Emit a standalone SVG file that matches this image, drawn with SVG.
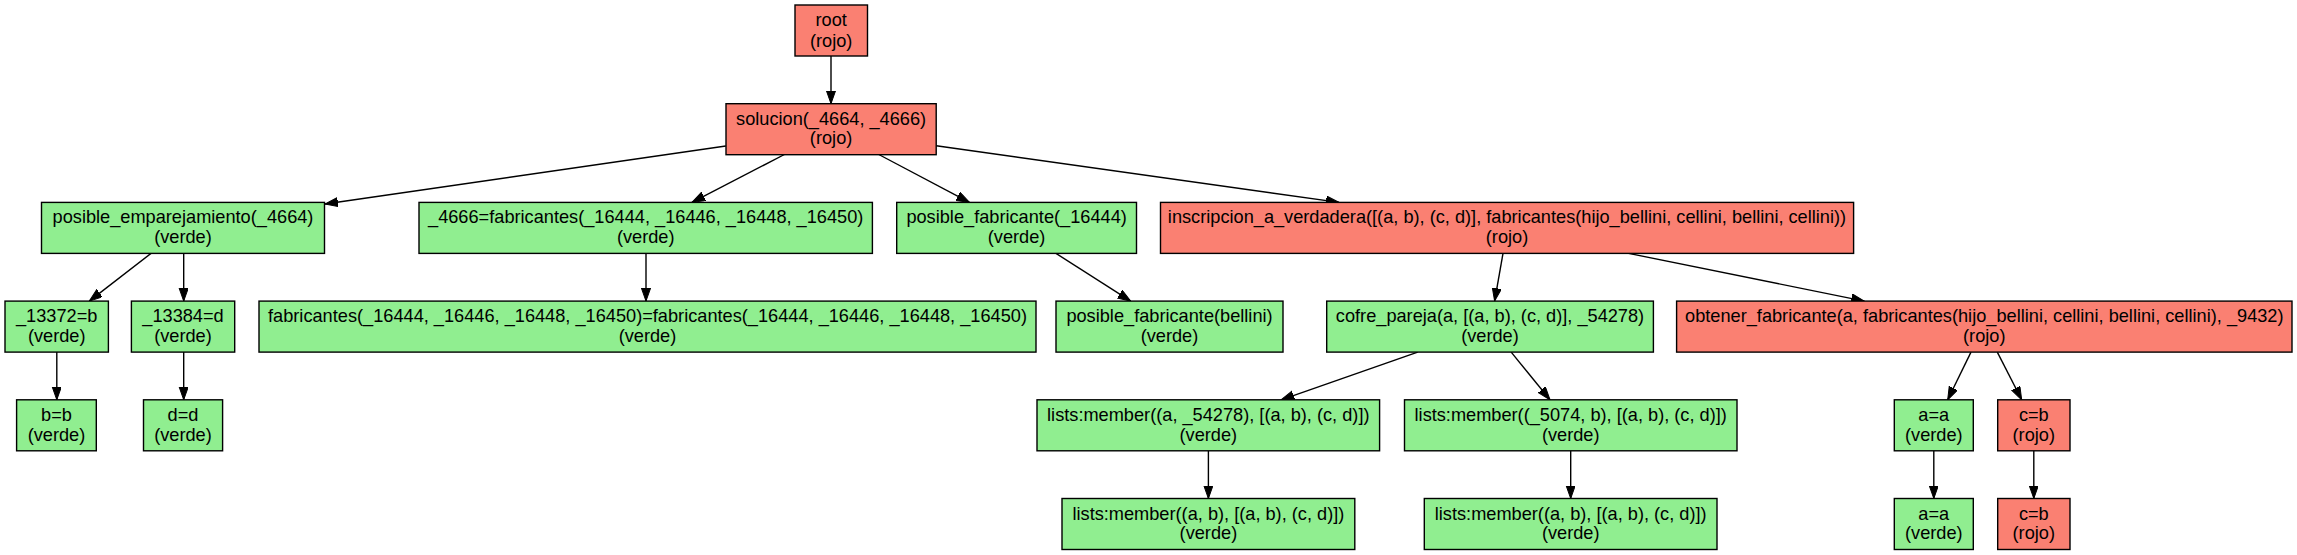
<svg xmlns="http://www.w3.org/2000/svg" width="2297" height="555" viewBox="0 0 2297 555">
<style>
.r{fill:#fa8072;stroke:#000;stroke-width:1.4}
.g{fill:#90ee90;stroke:#000;stroke-width:1.4}
text{font-family:"Liberation Sans",Arial,sans-serif;font-size:18.2px;text-anchor:middle;fill:#000}
.e path{fill:none;stroke:#000;stroke-width:1.4;marker-end:url(#arr)}
</style>
<defs>
<marker id="arr" markerUnits="userSpaceOnUse" markerWidth="14" markerHeight="10" refX="13" refY="4.6" orient="auto">
<path d="M0,0 L13,4.6 L0,9.2 z" fill="#000" stroke="#000" stroke-width="1"/>
</marker>
</defs>
<rect width="2297" height="555" fill="#fff"/>
<g class="e" id="connectors">
<path d="M831,56 L831,103.7"/>
<path d="M725.8,146 L325,204"/>
<path d="M784.4,154.5 L692,202.4"/>
<path d="M878.8,154.5 L969.4,202.4"/>
<path d="M936.2,145.7 L1339,202.4"/>
<path d="M151,253.4 L89.3,301.1"/>
<path d="M183.7,253.4 L183.7,301.1"/>
<path d="M646,253.4 L646,301.1"/>
<path d="M1056,253.4 L1130.7,301.1"/>
<path d="M1503,253.4 L1494.6,301.1"/>
<path d="M1628.6,253.4 L1864.3,301.1"/>
<path d="M56.8,352.1 L56.8,399.8"/>
<path d="M183.7,352.1 L183.7,399.8"/>
<path d="M1417.7,352.1 L1281.2,399.8"/>
<path d="M1511.2,352.1 L1550,399.8"/>
<path d="M1971,352.1 L1947.7,399.8"/>
<path d="M1997.3,352.1 L2021.7,399.8"/>
<path d="M1208.4,450.8 L1208.4,498.5"/>
<path d="M1570.7,450.8 L1570.7,498.5"/>
<path d="M1933.8,450.8 L1933.8,498.5"/>
<path d="M2033.8,450.8 L2033.8,498.5"/>
</g>
<g id="n_root"><rect class="r" x="795" y="5" width="72.5" height="51"/><text x="831.2" y="26">root</text><text x="831.2" y="46.7">(rojo)</text></g>
<g id="n_solucion"><rect class="r" x="726" y="103.7" width="210.2" height="51"/><text x="831.1" y="124.7">solucion(_4664, _4666)</text><text x="831.1" y="144.4">(rojo)</text></g>
<g id="n_pe"><rect class="g" x="41.5" y="202.4" width="283" height="51"/><text x="183" y="223.4">posible_emparejamiento(_4664)</text><text x="183" y="243.1">(verde)</text></g>
<g id="n_4666"><rect class="g" x="419" y="202.4" width="453.4" height="51"/><text x="645.7" y="223.4">_4666=fabricantes(_16444, _16446, _16448, _16450)</text><text x="645.7" y="243.1">(verde)</text></g>
<g id="n_pf"><rect class="g" x="896.7" y="202.4" width="239.8" height="51"/><text x="1016.6" y="223.4">posible_fabricante(_16444)</text><text x="1016.6" y="243.1">(verde)</text></g>
<g id="n_insc"><rect class="r" x="1160.5" y="202.4" width="693.1" height="51"/><text x="1507" y="223.4">inscripcion_a_verdadera([(a, b), (c, d)], fabricantes(hijo_bellini, cellini, bellini, cellini))</text><text x="1507" y="243.1">(rojo)</text></g>
<g id="n_13372"><rect class="g" x="5" y="301.1" width="103.4" height="51"/><text x="56.7" y="322.1">_13372=b</text><text x="56.7" y="341.8">(verde)</text></g>
<g id="n_13384"><rect class="g" x="131.4" y="301.1" width="103.3" height="51"/><text x="183" y="322.1">_13384=d</text><text x="183" y="341.8">(verde)</text></g>
<g id="n_fab"><rect class="g" x="259" y="301.1" width="777" height="51"/><text x="647.5" y="322.1">fabricantes(_16444, _16446, _16448, _16450)=fabricantes(_16444, _16446, _16448, _16450)</text><text x="647.5" y="341.8">(verde)</text></g>
<g id="n_pfb"><rect class="g" x="1056" y="301.1" width="227" height="51"/><text x="1169.5" y="322.1">posible_fabricante(bellini)</text><text x="1169.5" y="341.8">(verde)</text></g>
<g id="n_cofre"><rect class="g" x="1326.7" y="301.1" width="326.7" height="51"/><text x="1490" y="322.1">cofre_pareja(a, [(a, b), (c, d)], _54278)</text><text x="1490" y="341.8">(verde)</text></g>
<g id="n_obt"><rect class="r" x="1676.6" y="301.1" width="615.4" height="51"/><text x="1984.3" y="322.1">obtener_fabricante(a, fabricantes(hijo_bellini, cellini, bellini, cellini), _9432)</text><text x="1984.3" y="341.8">(rojo)</text></g>
<g id="n_bb"><rect class="g" x="16.6" y="399.8" width="79.7" height="51"/><text x="56.5" y="420.8">b=b</text><text x="56.5" y="440.5">(verde)</text></g>
<g id="n_dd"><rect class="g" x="143.5" y="399.8" width="79.1" height="51"/><text x="183" y="420.8">d=d</text><text x="183" y="440.5">(verde)</text></g>
<g id="n_l1"><rect class="g" x="1037" y="399.8" width="342.6" height="51"/><text x="1208.3" y="420.8">lists:member((a, _54278), [(a, b), (c, d)])</text><text x="1208.3" y="440.5">(verde)</text></g>
<g id="n_l2"><rect class="g" x="1404.5" y="399.8" width="332.5" height="51"/><text x="1570.7" y="420.8">lists:member((_5074, b), [(a, b), (c, d)])</text><text x="1570.7" y="440.5">(verde)</text></g>
<g id="n_aa1"><rect class="g" x="1894.3" y="399.8" width="79" height="51"/><text x="1933.8" y="420.8">a=a</text><text x="1933.8" y="440.5">(verde)</text></g>
<g id="n_cb1"><rect class="r" x="1997.7" y="399.8" width="72.3" height="51"/><text x="2033.8" y="420.8">c=b</text><text x="2033.8" y="440.5">(rojo)</text></g>
<g id="n_l3"><rect class="g" x="1062" y="498.5" width="292.8" height="51"/><text x="1208.4" y="519.5">lists:member((a, b), [(a, b), (c, d)])</text><text x="1208.4" y="539.2">(verde)</text></g>
<g id="n_l4"><rect class="g" x="1424.3" y="498.5" width="292.7" height="51"/><text x="1570.7" y="519.5">lists:member((a, b), [(a, b), (c, d)])</text><text x="1570.7" y="539.2">(verde)</text></g>
<g id="n_aa2"><rect class="g" x="1894.3" y="498.5" width="79" height="51"/><text x="1933.8" y="519.5">a=a</text><text x="1933.8" y="539.2">(verde)</text></g>
<g id="n_cb2"><rect class="r" x="1997.7" y="498.5" width="72.3" height="51"/><text x="2033.8" y="519.5">c=b</text><text x="2033.8" y="539.2">(rojo)</text></g>
</svg>
